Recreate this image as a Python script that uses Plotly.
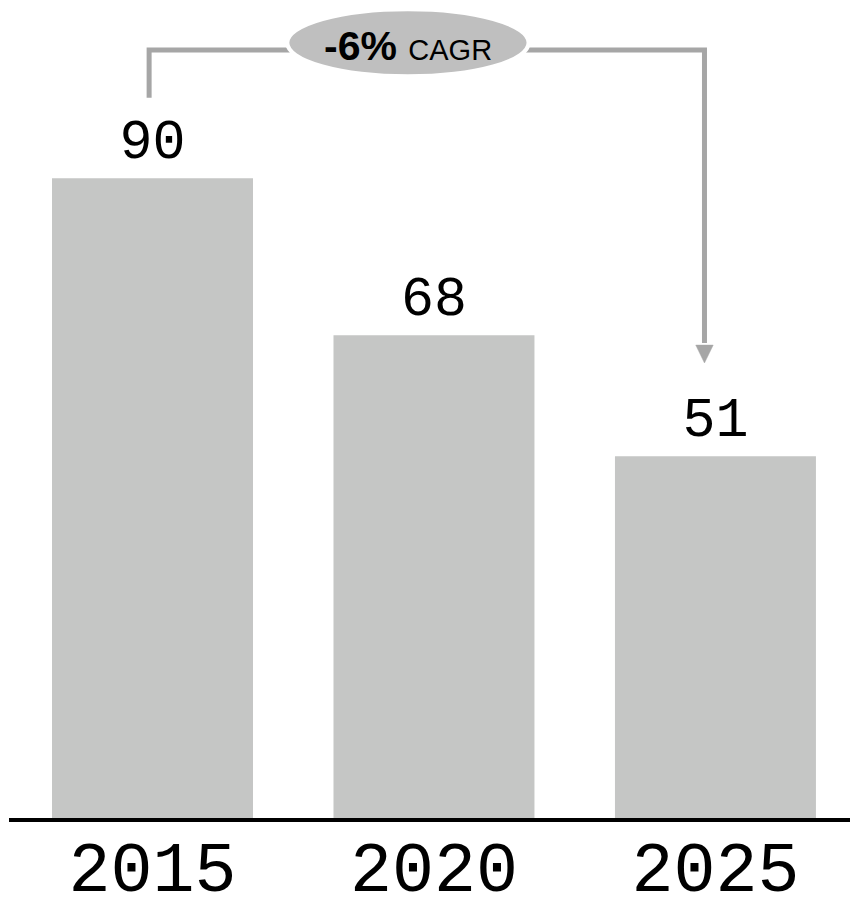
import plotly.graph_objects as go

years = ["2015", "2020", "2025"]
values = [90, 68, 51]
value_labels = ["90", "68", "51"]
cagr_bold = "-6%"
cagr_text = "CAGR"

BAR = "#c5c6c5"
LINE = "#a6a6a6"
ELL = "#bfbfbf"
MONO = "Liberation Mono, Cousine, DejaVu Sans Mono, monospace"
SANS = "Liberation Sans Narrow, Arial Narrow, Liberation Sans, Arial, sans-serif"

x = [0, 1, 2]

fig = go.Figure()
fig.add_trace(go.Bar(
    x=x, y=values, marker=dict(color=BAR, line=dict(width=0)),
    text=value_labels, textposition="outside", cliponaxis=False,
    textfont=dict(family=MONO, size=55, color="black"),
    hoverinfo="skip",
))

# bracket (left leg, top line, right leg) and arrowhead
xl, xr = -0.012, 1.961
ytop, yleft, yhead = 108, 101.3, 66.6
fig.add_shape(type="path", xref="x", yref="y",
              path=f"M {xl},{yleft} L {xl},{ytop} L {xr},{ytop} L {xr},{yhead+0.3}",
              line=dict(color=LINE, width=5))
fig.add_shape(type="path", xref="x", yref="y",
              path=f"M {xr-0.031},{yhead} L {xr+0.031},{yhead} L {xr},{64.1} Z",
              fillcolor=LINE, line=dict(color=LINE, width=0.5))
# ellipse label
fig.add_shape(type="circle", xref="x", yref="y",
              x0=0.479, x1=1.336, y0=104.3, y1=113.7,
              fillcolor=ELL, line=dict(color="white", width=4))
fig.add_annotation(x=0.9075, y=108.6, xref="x", yref="y", showarrow=False,
                   text=f"<b>{cagr_bold}</b> <span style='font-size:29px'>{cagr_text}</span>",
                   font=dict(family=SANS, size=41, color="black"))

# baseline
fig.add_shape(type="line", xref="paper", yref="paper", x0=0, x1=1.01, y0=0, y1=0,
              line=dict(color="black", width=4))

fig.update_layout(
    template="none",
    width=850, height=900,
    margin=dict(l=9, r=0, t=0, b=80, pad=0),
    paper_bgcolor="white", plot_bgcolor="white",
    bargap=0.286, showlegend=False,
    xaxis=dict(range=[-0.5098, 2.478], tickmode="array", tickvals=x, ticktext=years,
               tickfont=dict(family=MONO, size=70, color="black"),
               showgrid=False, zeroline=False, showline=False, ticks="",
               automargin=False, fixedrange=True),
    yaxis=dict(range=[0, 115], visible=False, showgrid=False, zeroline=False,
               automargin=False, fixedrange=True),
)

fig.write_html("out.html", config={"displayModeBar": False, "staticPlot": True},
               post_script="document.body.style.margin='0';document.body.style.overflow='hidden';")
